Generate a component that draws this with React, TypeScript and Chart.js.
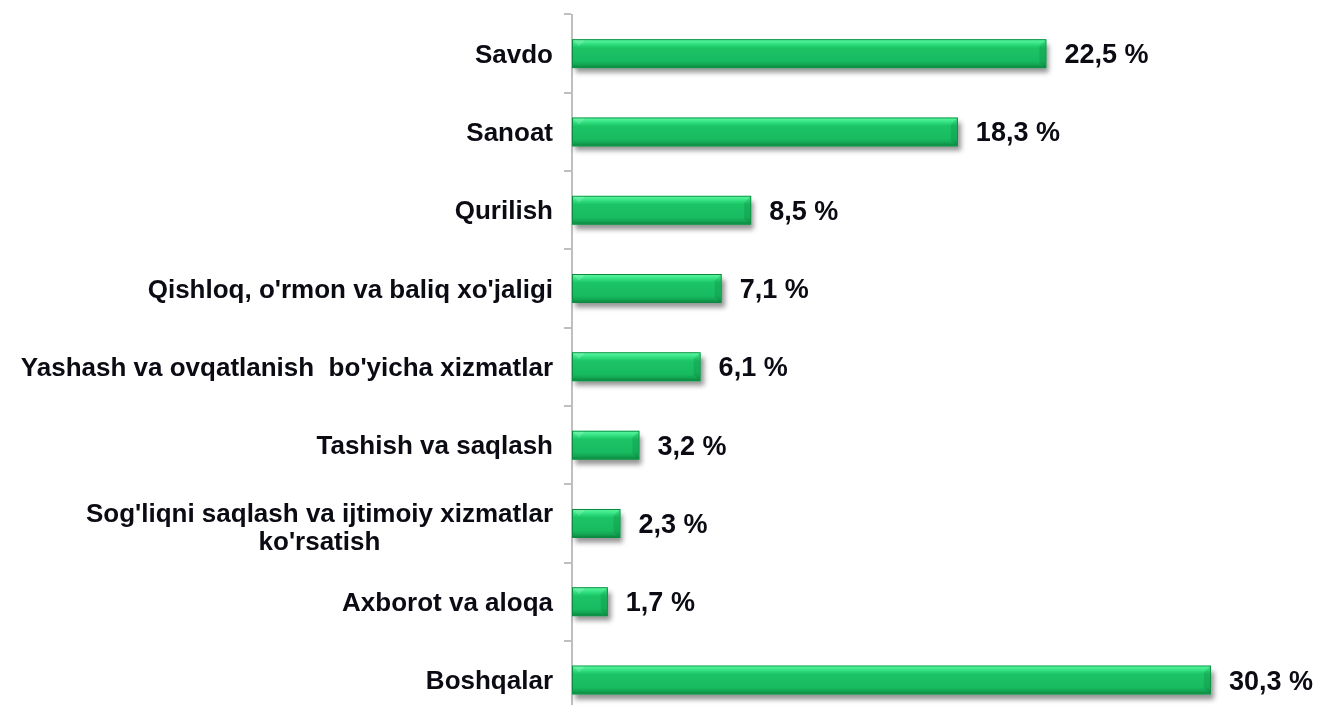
import React, { useEffect, useRef } from "react";
import { Chart, registerables } from "chart.js";

Chart.register(...registerables);

const categories: (string | string[])[] = [
  "Savdo",
  "Sanoat",
  "Qurilish",
  "Qishloq, o'rmon va baliq xo'jaligi",
  "Yashash va ovqatlanish  bo'yicha xizmatlar",
  "Tashish va saqlash",
  ["Sog'liqni saqlash va ijtimoiy xizmatlar", "ko'rsatish"],
  "Axborot va aloqa",
  "Boshqalar",
];
const values = [22.5, 18.3, 8.5, 7.1, 6.1, 3.2, 2.3, 1.7, 30.3];
const valueLabels = values.map((v) => v.toFixed(1).replace(".", ",") + " %");

const FONT = "'Liberation Sans', Arial, sans-serif";
const TEXT_COLOR = "#0b0b14";
const BAR_PCT = 0.37;

function barRect(el: any) {
  const { x, y, base, height } = el.getProps(["x", "y", "base", "height"], true);
  const top = y - height / 2;
  const bot = y + height / 2;
  const left = Math.min(x, base);
  const right = Math.max(x, base);
  return { top, bot, left, right };
}

export default function App() {
  const ref = useRef<HTMLCanvasElement | null>(null);

  useEffect(() => {
    if (!ref.current) return;

    const shadowPlugin = {
      id: "barShadow",
      beforeDatasetsDraw(chart: any) {
        const ctx = chart.ctx;
        const meta = chart.getDatasetMeta(0);
        ctx.save();
        ctx.shadowColor = "rgba(0,0,0,0.42)";
        ctx.shadowBlur = 5;
        ctx.shadowOffsetX = 3;
        ctx.shadowOffsetY = 5;
        ctx.fillStyle = "#18bb60";
        meta.data.forEach((el: any) => {
          const r = barRect(el);
          ctx.fillRect(r.left, r.top, r.right - r.left, r.bot - r.top);
        });
        ctx.restore();
      },
      afterDatasetsDraw(chart: any) {
        const ctx = chart.ctx;
        const meta = chart.getDatasetMeta(0);
        ctx.save();
        meta.data.forEach((el: any) => {
          const { top, bot, left, right } = barRect(el);
          const d = Math.min(6, (right - left) / 3);
          // top-left light bevel
          ctx.fillStyle = "rgba(255,255,255,0.16)";
          ctx.beginPath();
          ctx.moveTo(left + 1, top + 1);
          ctx.lineTo(left + 1 + d * 2, top + 1);
          ctx.lineTo(left + 1 + d, top + 1 + d);
          ctx.closePath();
          ctx.fill();
          // right-end dark bevel
          ctx.fillStyle = "rgba(0,70,25,0.14)";
          ctx.beginPath();
          ctx.moveTo(right - 1, top + 1);
          ctx.lineTo(right - 1 - d, top + 1 + d);
          ctx.lineTo(right - 1 - d, bot - d);
          ctx.lineTo(right - 1, bot - 1);
          ctx.closePath();
          ctx.fill();
        });
        ctx.restore();
      },
    };

    const labelPlugin = {
      id: "labels",
      afterDraw(chart: any) {
        const ctx = chart.ctx;
        const ys = chart.scales.y;
        const xs = chart.scales.x;
        ctx.save();
        ctx.fillStyle = TEXT_COLOR;
        ctx.textBaseline = "middle";
        const rightX = chart.chartArea.left - 19;
        categories.forEach((cat, i) => {
          const y = ys.getPixelForValue(i) + 2;
          ctx.font = `bold 26px ${FONT}`;
          if (Array.isArray(cat)) {
            const lh = 28;
            const top = y + 3 - ((cat.length - 1) * lh) / 2;
            const w0 = ctx.measureText(cat[0]).width;
            const center = rightX - w0 / 2;
            cat.forEach((line, k) => {
              if (k === 0) {
                ctx.textAlign = "right";
                ctx.fillText(line, rightX, top + k * lh);
              } else {
                ctx.textAlign = "center";
                ctx.fillText(line, center, top + k * lh);
              }
            });
          } else {
            ctx.textAlign = "right";
            ctx.fillText(cat, rightX, y);
          }
          ctx.font = `bold 27px ${FONT}`;
          ctx.textAlign = "left";
          ctx.fillText(valueLabels[i], xs.getPixelForValue(values[i]) + 18, y);
        });
        ctx.restore();
      },
    };

    const chart = new Chart(ref.current, {
      type: "bar",
      data: {
        labels: categories as any,
        datasets: [
          {
            data: values,
            backgroundColor: (c: any) => {
              const ch = c.chart;
              const ys = ch.scales && ch.scales.y;
              if (!ys || c.dataIndex === undefined) return "#19c364";
              const y = ys.getPixelForValue(c.dataIndex);
              const y1 = ys.getPixelForValue(1);
              const y0 = ys.getPixelForValue(0);
              if (!Number.isFinite(y) || !Number.isFinite(y1) || !Number.isFinite(y0)) return "#19c364";
              const step = Math.abs(y1 - y0) || 78;
              const h = step * BAR_PCT;
              const g = ch.ctx.createLinearGradient(0, y - h / 2, 0, y + h / 2);
              g.addColorStop(0, "#5ef5a0");
              g.addColorStop(0.1, "#44ec90");
              g.addColorStop(0.22, "#26d574");
              g.addColorStop(0.3, "#1cc466");
              g.addColorStop(0.75, "#18bb60");
              g.addColorStop(0.88, "#12a553");
              g.addColorStop(1, "#0b7d3b");
              return g;
            },
            borderColor: "#0d8a40",
            borderWidth: 1,
            borderSkipped: false,
            categoryPercentage: 1,
            barPercentage: BAR_PCT,
          },
        ],
      },
      options: {
        indexAxis: "y",
        responsive: false,
        animation: false,
        devicePixelRatio: 1,
        layout: { padding: { top: 6.5, bottom: 2.8, left: 0, right: 4 } },
        plugins: {
          legend: { display: false },
          tooltip: { enabled: false },
          title: { display: false },
        },
        scales: {
          x: { display: false, min: 0, max: 35 },
          y: {
            afterFit: (s: any) => {
              s.width = 564;
            },
            ticks: { display: false },
            grid: {
              drawOnChartArea: false,
              drawTicks: true,
              tickLength: 8,
              color: "#bfbfbf",
              lineWidth: 2,
              offset: true,
            },
            border: { color: "#bfbfbf", width: 2 },
          },
        },
      } as any,
      plugins: [shadowPlugin, labelPlugin],
    });

    return () => chart.destroy();
  }, []);

  return (
    <div style={{ height: 697, overflow: "hidden" }}>
      <canvas ref={ref} width={1306} height={714} style={{ display: "block" }} />
    </div>
  );
}
